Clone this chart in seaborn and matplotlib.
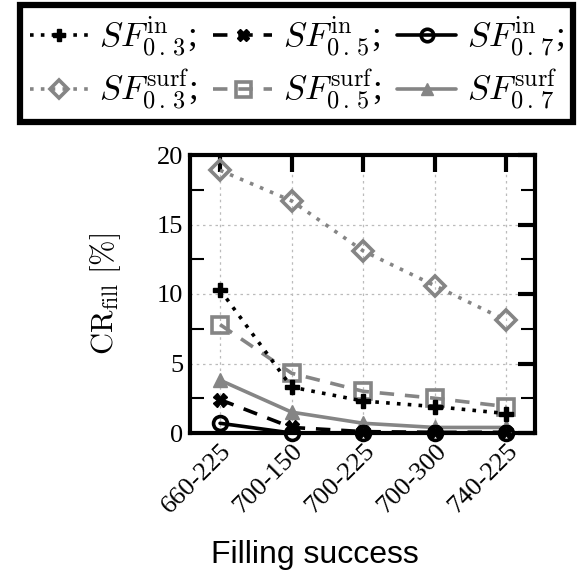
import matplotlib
matplotlib.use("Agg")
import matplotlib.pyplot as plt
import seaborn as sns
import pandas as pd
import numpy as np

categories = ["660-225", "700-150", "700-225", "700-300", "740-225"]
sf_in_03 = [10.3, 3.3, 2.3, 1.9, 1.4]
sf_in_05 = [2.4, 0.4, 0.1, 0.05, 0.05]
sf_in_07 = [0.7, 0.0, 0.0, 0.0, 0.0]
sf_surf_03 = [18.9, 16.7, 13.1, 10.6, 8.1]
sf_surf_05 = [7.8, 4.3, 3.0, 2.5, 1.9]
sf_surf_07 = [3.8, 1.5, 0.7, 0.4, 0.4]

GRAY = "#858585"
series = [
    (sf_in_03, r"$SF^{\rm in}_{0\,.\,3}$;", "black", (0, (1, 2)), "P"),
    (sf_surf_03, r"$SF^{\rm surf}_{0\,.\,3}$;", GRAY, (0, (1, 2)), "D"),
    (sf_in_05, r"$SF^{\rm in}_{0\,.\,5}$;", "black", (0, (4, 3)), "X"),
    (sf_surf_05, r"$SF^{\rm surf}_{0\,.\,5}$;", GRAY, (0, (4, 3)), "s"),
    (sf_in_07, r"$SF^{\rm in}_{0\,.\,7}$;", "black", "-", "o"),
    (sf_surf_07, r"$SF^{\rm surf}_{0\,.\,7}$", GRAY, "-", "^"),
]

sns.set_style("white")
plt.rcParams["mathtext.fontset"] = "cm"
plt.rcParams["font.family"] = ["Liberation Serif", "DejaVu Serif"]
plt.rcParams["text.color"] = "black"
plt.rcParams["xtick.color"] = "black"
plt.rcParams["ytick.color"] = "black"
plt.rcParams["axes.labelcolor"] = "black"

fig = plt.figure(figsize=(5.78, 5.79), dpi=100)
ax = fig.add_axes([190 / 578, 1 - 433 / 579, 345 / 578, 278 / 579])

x = np.arange(len(categories))
draw_order = [1, 3, 5, 0, 2, 4]
hmap = {}
for i in draw_order:
    vals, lab, col, ls, mk = series[i]
    df = pd.DataFrame({"x": x, "y": vals})
    filled = mk in ("P", "X", "^")
    sns.lineplot(data=df, x="x", y="y", ax=ax, color=col, linestyle=ls,
                 linewidth=2.6, marker=mk, markersize=10 if mk != "s" else 12,
                 markerfacecolor=(col if filled else "none"),
                 markeredgecolor=col, markeredgewidth=2.6 if not filled else 1,
                 label=lab, clip_on=False, zorder=3)
    hmap[i] = ax.get_lines()[-1]

ax.set_xlim(-0.42, 4.4)
ax.set_ylim(0, 20)
ax.set_xticks(x)
ax.set_xticklabels(categories, rotation=45, ha="right", rotation_mode="anchor",
                   fontsize=19)
ax.set_yticks([0, 5, 10, 15, 20])
ax.set_yticks([2.5, 7.5, 12.5, 17.5], minor=True)
ax.tick_params(axis="both", which="major", direction="in", length=12, width=3,
               top=True, right=True, labelsize=19, pad=5)
ax.tick_params(axis="y", which="minor", direction="in", length=10, width=1.5,
               left=True, right=True)
ax.grid(True, which="major", color="#bbbbbb", linestyle=(0, (2, 3)), linewidth=0.9)
for s in ax.spines.values():
    s.set_linewidth(3)
    s.set_color("black")
ax.set_xlabel("Filling success", fontsize=23, family=["Liberation Sans"])
ax.xaxis.set_label_coords((315 - 190) / 345, (433 - 555) / 278)
ax.xaxis.label.set_va("center")
ax.set_ylabel(r"$\mathrm{CR}_{\mathrm{fill}}\ [\%]$", fontsize=22)
ax.yaxis.set_label_coords((106 - 190) / 345, (433 - 294) / 278)
ax.yaxis.label.set_va("center")
if ax.get_legend():
    ax.get_legend().remove()

handles = [hmap[i] for i in range(6)]
labels = [s[1] for s in series]
leg = fig.legend(handles, labels, ncol=3, loc="upper left",
                 bbox_to_anchor=(20 / 578, 1 - 5 / 579), frameon=True,
                 fontsize=25, handlelength=1.7, handletextpad=0.3,
                 columnspacing=0.45, labelspacing=0.25, borderpad=0.28,
                 borderaxespad=0, fancybox=False, edgecolor="black",
                 framealpha=1, markerscale=0.9)
leg.get_frame().set_linewidth(4.5)

fig.savefig("out.png", dpi=100)
